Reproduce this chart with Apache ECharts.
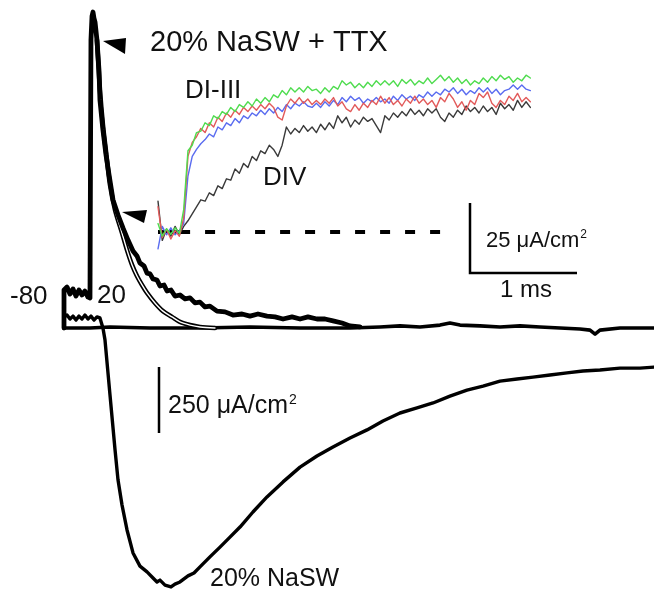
<!DOCTYPE html>
<html>
<head>
<meta charset="utf-8">
<script src="https://cdn.jsdelivr.net/npm/echarts@6/dist/echarts.min.js"></script>
<style>
  html, body { margin: 0; padding: 0; background: #fff; }
  #chart { width: 654px; height: 593px; }
</style>
</head>
<body>
<div id="chart"></div>
<script>
// ---- Main records: [time (ms), current (µA/cm²)] ----
// Zero-current holding line with the small late ripples
const holdingLine = [
  [0, 0], [0.243, 0], [0.430, 4], [0.804, 0], [1.271, 0], [1.738, 4], [2.206, 0], [2.673, 0],
  [2.953, 4], [3.140, 8], [3.327, 4], [3.514, 11], [3.607, 19], [3.701, 11], [3.888, 8],
  [4.075, 4], [4.262, 8], [4.449, 4], [4.636, 0], [4.822, -4], [4.916, -8], [4.963, -23],
  [5.009, -8], [5.196, 0], [5.383, 0], [5.514, 0]
];

// Inward sodium current in 20% NaSW
const naswTrace = [
  [0, 0], [0, 42], [0.028, 49], [0.056, 34], [0.084, 45], [0.112, 30], [0.140, 45], [0.168, 34],
  [0.196, 49], [0.224, 34], [0.252, 45], [0.280, 30], [0.308, 42], [0.336, 38], [0.364, 0],
  [0.383, -45], [0.430, -254], [0.477, -462], [0.505, -576], [0.542, -670], [0.589, -765],
  [0.645, -852], [0.710, -902], [0.776, -924], [0.832, -947], [0.869, -962], [0.897, -955],
  [0.944, -974], [1.000, -981], [1.037, -970], [1.084, -962], [1.159, -939], [1.215, -928],
  [1.271, -905], [1.364, -867], [1.458, -830], [1.551, -792], [1.645, -754], [1.766, -697],
  [1.897, -640], [2.047, -583], [2.206, -527], [2.364, -485], [2.514, -451], [2.673, -417],
  [2.832, -386], [2.981, -352], [3.140, -322], [3.299, -303], [3.449, -284], [3.607, -258],
  [3.766, -235], [3.916, -220], [4.075, -201], [4.234, -193], [4.383, -186], [4.542, -178],
  [4.701, -170], [4.850, -163], [5.009, -159], [5.196, -152], [5.383, -152], [5.514, -148]
];

// Outward transient current in 20% NaSW + TTX
const ttxTrace = [
  [0, 0], [0, 144], [0.028, 155], [0.056, 129], [0.084, 148], [0.112, 121], [0.140, 144],
  [0.168, 125], [0.196, 140], [0.224, 117], [0.243, 114], [0.248, 674], [0.252, 1091],
  [0.262, 1182], [0.271, 1197], [0.280, 1174], [0.290, 1159], [0.308, 1091], [0.327, 977],
  [0.336, 864], [0.364, 750], [0.393, 655], [0.421, 580], [0.458, 485], [0.505, 428],
  [0.551, 379], [0.598, 333], [0.645, 292], [0.682, 273], [0.710, 246], [0.748, 235],
  [0.776, 208], [0.804, 205], [0.832, 186], [0.869, 182], [0.897, 159], [0.935, 163],
  [0.963, 140], [1.000, 144], [1.037, 121], [1.084, 125], [1.131, 110], [1.178, 114],
  [1.224, 95], [1.271, 98], [1.318, 80], [1.364, 83], [1.430, 64], [1.505, 61], [1.579, 49],
  [1.664, 53], [1.738, 45], [1.813, 53], [1.897, 45], [1.972, 42], [2.047, 34], [2.131, 42],
  [2.206, 34], [2.280, 42], [2.364, 34], [2.439, 34], [2.514, 27], [2.598, 19], [2.673, 8],
  [2.766, 4]
];

// Exponential fit to the TTX-resistant decay
const ttxFit = [
  [0.308, 1091], [0.336, 902], [0.364, 769], [0.393, 667], [0.430, 542], [0.477, 447],
  [0.542, 360], [0.589, 295], [0.636, 239], [0.682, 197], [0.729, 163], [0.776, 133],
  [0.850, 95], [0.925, 64], [1.009, 42], [1.084, 23], [1.178, 11], [1.271, 4], [1.411, 0]
];

// ---- Inset: domain currents (µA/cm²), one sample every 0.04 ms ----
const insetSampleMs = 0.04;
const domainI = [
  3, -1.5, 1.2, -0.8, 1.5, -0.5, 8, 29, 31, 35.5, 36, 39, 38, 41.5, 40.5, 43, 42, 44.5, 43, 45.5,
  44.5, 46.5, 45, 47.5, 46, 48, 46.5, 49, 48, 50.5, 49, 51.5, 50, 51.5, 50, 52, 50.5, 51, 49.5, 51.5,
  50, 52, 51, 54, 52.5, 53.5, 51.5, 53, 51.5, 53.5, 52, 54, 52.5, 54, 52.5, 54, 52, 54.5, 53, 54.5,
  52.5, 54, 53, 55, 53, 54.5, 56, 54, 55.5, 53.5, 55, 53, 54.5, 52.5, 54, 53, 55, 53.5, 55.5, 54,
  56, 54.5, 55.5, 53.5, 55, 54, 56, 55
];
const domainII = [
  9, -2, 1, -2.5, 0.5, -1.5, 5, 27, 32, 34, 37, 35.5, 39, 37.5, 41, 39.5, 42.5, 41, 43.5, 42,
  44.5, 43, 45, 43.5, 45.5, 44, 46, 44.5, 41, 40, 45, 47.5, 46, 48, 46, 47.5, 45.5, 47, 45.5, 47.5,
  46, 48, 45, 46.5, 44, 43, 45.5, 43.5, 46, 44.5, 47, 45.5, 48.5, 46, 48, 45.5, 47, 45, 47.5, 46,
  48.5, 46, 47.5, 45.5, 47, 44.5, 48, 46.5, 49.5, 47.5, 44.5, 46.5, 43.5, 47, 45.5, 49.5, 48, 50,
  46, 44.5, 47, 45.5, 48.5, 47, 49.5, 46.5, 48, 46.5
];
const domainIII = [
  -6, 2, -1, 1.5, -1, 0.5, 3, 20, 27, 29.5, 31.5, 33, 35, 34, 37.5, 36.5, 39, 38, 40.5, 39,
  41.5, 40.5, 42.5, 41.5, 43.5, 42, 44, 42.5, 44.5, 43, 45.5, 44, 46, 45, 46.5, 45, 44.5, 46, 44.5, 46.5,
  45, 47, 45.5, 48, 46.5, 48.5, 47, 48, 46, 47.5, 46.5, 48, 46.5, 47.5, 46, 48.5, 47, 49, 47.5, 48.5,
  47, 49, 48, 50, 48.5, 50, 49, 51, 50, 51.5, 49.5, 51, 49, 50.5, 49.5, 51.5, 50, 51.5, 49.5, 51,
  49, 50.5, 51, 52.5, 51, 52.5, 51, 50.5
];
const domainIV = [
  11, -3, 1, -1.5, 2, -1, 2, 4, 6.5, 9, 11.5, 11, 14, 13, 16.5, 15.5, 19, 18.5, 22.5, 21,
  24.5, 23, 27, 25.5, 29, 28, 31, 29.5, 27, 31, 37.5, 35, 37, 35.5, 38, 36, 37.5, 35.5, 38.5, 36.5,
  39, 37, 41.5, 39, 41, 37.5, 40, 38.5, 41, 39.5, 40.5, 38, 35.5, 41.5, 40, 42.5, 41, 43, 41.5, 44,
  42, 43.5, 41.5, 44, 42.5, 44, 41, 39.5, 42.5, 41, 43.5, 42, 45, 43, 44.5, 42.5, 45, 43, 44.5, 42,
  46, 44, 45.5, 43.5, 47, 44.5, 46.5, 44.5
];
// Zero-current reference for the inset (solid under the step, dashed afterwards)
const insetZeroSolid = [[0, 0], [0.30, 0]];
const insetZeroDashed = [[0.44, 0], [2.64, 0]];

// Calibration bars
const mainBarCurrent = 250;   // µA/cm²
const insetBarCurrent = 25;   // µA/cm²
const insetBarTime = 1;       // ms

// ---- Layout: both panels share the full canvas, axes hidden ----
const W = 654, H = 593;
const mainOrigin = { x: 64, y: 328 }, mainPxPerMs = 107, mainPxPerUnit = 1 / 3.788;
const insetOrigin = { x: 158, y: 232 }, insetPxPerMs = 107, insetPxPerUnit = 2.8;

const FONT = '"Liberation Sans", Arial, Helvetica, sans-serif';
const toSeries = (vals) => vals.map((v, i) => [+(i * insetSampleMs).toFixed(3), v]);

function lineSeries(name, data, axis, color, width, extra) {
  return Object.assign({
    name, type: 'line', data, xAxisIndex: axis, yAxisIndex: axis,
    showSymbol: false, symbol: 'none', silent: true, animation: false,
    lineStyle: { color, width, join: 'round', cap: 'round' }
  }, extra || {});
}

const chart = echarts.init(document.getElementById('chart'), null, { renderer: 'canvas' });

chart.setOption({
  backgroundColor: '#fff',
  animation: false,
  grid: [
    { left: 0, right: 0, top: 0, bottom: 0, show: false },
    { left: 0, right: 0, top: 0, bottom: 0, show: false }
  ],
  xAxis: [
    { type: 'value', gridIndex: 0, show: false,
      min: -mainOrigin.x / mainPxPerMs, max: (W - mainOrigin.x) / mainPxPerMs },
    { type: 'value', gridIndex: 1, show: false,
      min: -insetOrigin.x / insetPxPerMs, max: (W - insetOrigin.x) / insetPxPerMs }
  ],
  yAxis: [
    { type: 'value', gridIndex: 0, show: false,
      min: -(H - mainOrigin.y) / mainPxPerUnit, max: mainOrigin.y / mainPxPerUnit },
    { type: 'value', gridIndex: 1, show: false,
      min: -(H - insetOrigin.y) / insetPxPerUnit, max: insetOrigin.y / insetPxPerUnit }
  ],
  series: [
    lineSeries('holding', holdingLine, 0, '#000', 3.6),
    lineSeries('20% NaSW', naswTrace, 0, '#000', 3.4),
    lineSeries('fit outline', ttxFit, 0, '#000', 4.6, { smooth: 0.3 }),
    lineSeries('fit core', ttxFit, 0, '#fff', 1.4, { smooth: 0.3 }),
    lineSeries('20% NaSW + TTX', ttxTrace, 0, '#000', 4.8),
    lineSeries('zero', insetZeroSolid, 1, '#000', 4, { lineStyle: { color: '#000', width: 4, cap: 'butt' } }),
    lineSeries('zero dashed', insetZeroDashed, 1, '#000', 4,
      { lineStyle: { color: '#000', width: 4, type: [10, 15], cap: 'butt' } }),
    lineSeries('DIV', toSeries(domainIV), 1, '#3a3a3a', 1.4),
    lineSeries('DIII', toSeries(domainIII), 1, '#5a6cf0', 1.4),
    lineSeries('DII', toSeries(domainII), 1, '#e25a5a', 1.4),
    lineSeries('DI', toSeries(domainI), 1, '#4fdc4f', 1.4)
  ]
});

// Annotations: labels, arrowheads and calibration bars
const txt = (text, x, y, size, rich) => ({
  type: 'text', x, y, silent: true, z: 100,
  style: Object.assign({ text, fontSize: size, fontFamily: FONT, fill: '#111',
    align: 'left', verticalAlign: 'middle' }, rich ? { rich } : {})
});
const unitRich = (size) => ({
  u: { fontSize: size, fontFamily: FONT, fill: '#111' },
  s: { fontSize: Math.round(size * 0.55), fontFamily: FONT, fill: '#111', verticalAlign: 'top', padding: [0, 0, 12, 1] }
});

const mainBarTop = chart.convertToPixel({ xAxisIndex: 0, yAxisIndex: 0 }, [0, mainBarCurrent]);
const mainBarZero = chart.convertToPixel({ xAxisIndex: 0, yAxisIndex: 0 }, [0, 0]);
const mainBarLen = mainBarZero[1] - mainBarTop[1];
const insetA = chart.convertToPixel({ xAxisIndex: 1, yAxisIndex: 1 }, [0, 0]);
const insetB = chart.convertToPixel({ xAxisIndex: 1, yAxisIndex: 1 }, [insetBarTime, insetBarCurrent]);
const insetBarW = insetB[0] - insetA[0];
const insetBarH = insetA[1] - insetB[1];

const barX = 470, barY = 273;
const mainBarX = 159, mainBarBottom = 433;

chart.setOption({
  graphic: [
    txt('20% NaSW + TTX', 150, 43, 29),
    txt('DI-III', 185, 91, 26),
    txt('DIV', 263, 178, 26),
    txt('-80', 10, 297, 26),
    txt('20', 97, 296, 26),
    txt('{u|25 μA/cm}{s|2}', 486, 241, 0, unitRich(22)),
    txt('1 ms', 500, 290, 24),
    txt('{u|250 μA/cm}{s|2}', 168, 406, 0, unitRich(25)),
    txt('20% NaSW', 210, 579, 25),
    { type: 'polygon', silent: true, z: 100, shape: { points: [[103, 41], [126, 38], [125, 54]] }, style: { fill: '#000' } },
    { type: 'polygon', silent: true, z: 100, shape: { points: [[122, 212], [147, 210], [144, 223]] }, style: { fill: '#000' } },
    { type: 'polyline', silent: true, z: 100,
      shape: { points: [[barX, barY - insetBarH], [barX, barY], [barX + insetBarW, barY]] },
      style: { stroke: '#000', lineWidth: 2.5, fill: null } },
    { type: 'line', silent: true, z: 100,
      shape: { x1: mainBarX, y1: mainBarBottom - mainBarLen, x2: mainBarX, y2: mainBarBottom },
      style: { stroke: '#000', lineWidth: 2.5 } }
  ]
});
</script>
</body>
</html>
